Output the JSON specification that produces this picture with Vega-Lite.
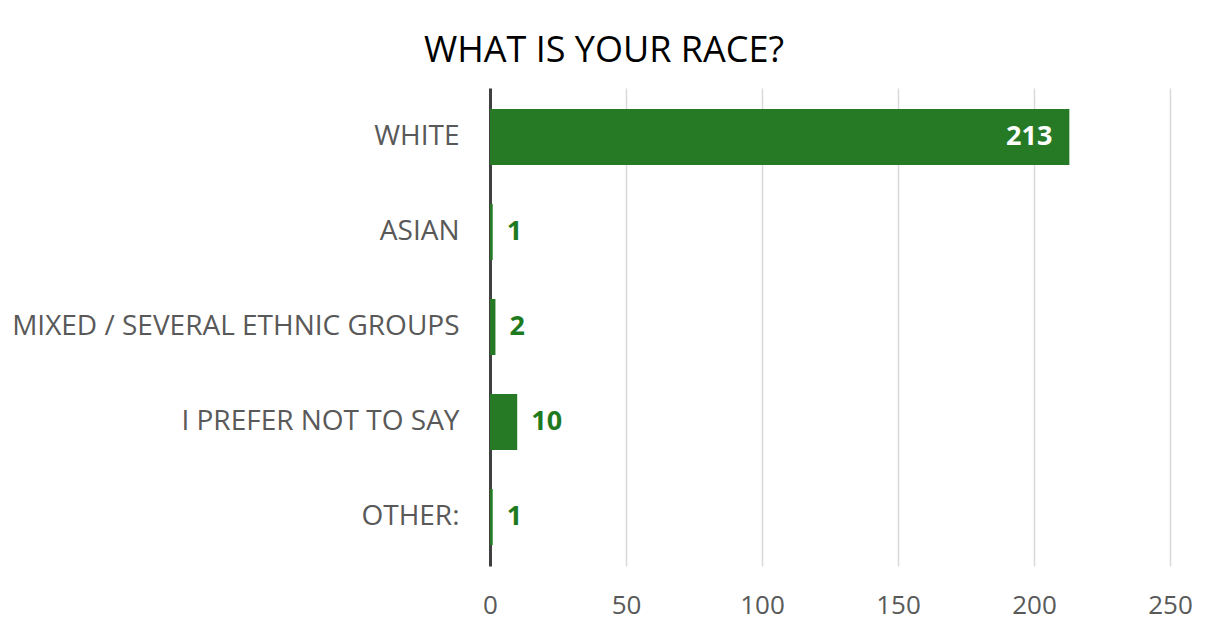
{
  "$schema": "https://vega.github.io/schema/vega-lite/v6.json",
  "width": 680,
  "height": 478,
  "autosize": "none",
  "padding": {"left": 490, "top": 88, "right": 38, "bottom": 59},
  "background": "white",
  "config": {"view": {"stroke": null}, "font": "Open Sans"},
  "title": {
    "text": "WHAT IS YOUR RACE?",
    "font": "Open Sans",
    "fontSize": 36,
    "fontWeight": "normal",
    "color": "#000000",
    "anchor": "middle",
    "frame": "group",
    "dx": -226,
    "offset": 18
  },
  "data": {
    "values": [
      {"race": "WHITE", "count": 213},
      {"race": "ASIAN", "count": 1},
      {"race": "MIXED / SEVERAL ETHNIC GROUPS", "count": 2},
      {"race": "I PREFER NOT TO SAY", "count": 10},
      {"race": "OTHER:", "count": 1}
    ]
  },
  "encoding": {
    "y": {
      "field": "race",
      "type": "nominal",
      "sort": null,
      "scale": {"paddingInner": 0.41, "paddingOuter": 0.22},
      "axis": {
        "title": null,
        "ticks": false,
        "domain": true,
        "domainColor": "#404040",
        "domainWidth": 3,
        "labelFont": "Open Sans",
        "labelFontSize": 28,
        "labelColor": "#595959",
        "labelPadding": 31,
        "labelLimit": 600
      }
    },
    "x": {
      "field": "count",
      "type": "quantitative",
      "scale": {"domain": [0, 250], "nice": false},
      "axis": {
        "title": null,
        "values": [0, 50, 100, 150, 200, 250],
        "ticks": false,
        "domain": false,
        "grid": true,
        "gridColor": "#d9d9d9",
        "gridWidth": 1.5,
        "labelFlush": false,
        "labelFont": "Open Sans",
        "labelFontSize": 26,
        "labelColor": "#595959",
        "labelPadding": 26
      }
    }
  },
  "layer": [
    {"mark": {"type": "bar", "color": "#267a26"}},
    {
      "transform": [{"filter": "datum.count > 100"}],
      "mark": {"type": "text", "align": "right", "dx": -17, "color": "white", "fontWeight": "bold", "fontSize": 27, "font": "Open Sans"},
      "encoding": {"text": {"field": "count", "type": "quantitative"}}
    },
    {
      "transform": [{"filter": "datum.count <= 100"}],
      "mark": {"type": "text", "align": "left", "dx": 14, "color": "#1e7a1e", "fontWeight": "bold", "fontSize": 27, "font": "Open Sans"},
      "encoding": {"text": {"field": "count", "type": "quantitative"}}
    }
  ]
}
